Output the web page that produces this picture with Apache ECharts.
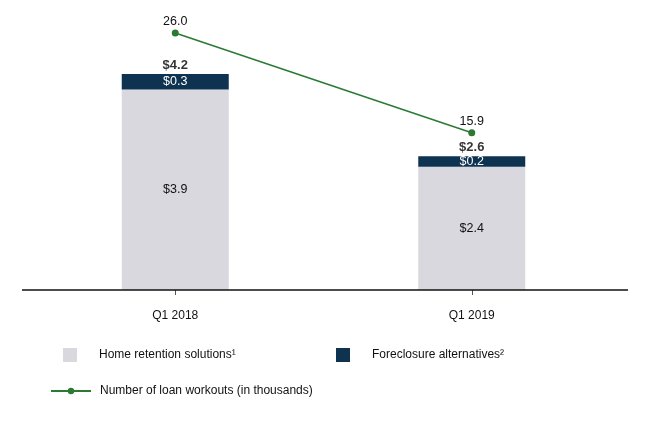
<!DOCTYPE html>
<html>
<head>
<meta charset="utf-8">
<script src="https://cdn.jsdelivr.net/npm/echarts@6/dist/echarts.min.js"></script>
<style>html,body{margin:0;padding:0;background:#fff}#c{width:646px;height:425px}</style>
</head>
<body>
<div id="c"></div>
<script>
const categories = ['Q1 2018', 'Q1 2019'];
const homeRetention = [3.9, 2.4];
const foreclosureAlt = [0.3, 0.2];
const totals = [4.2, 2.6];
const loanWorkouts = [26.0, 15.9];

const FONT = 'Liberation Sans, Arial, sans-serif';
const chart = echarts.init(document.getElementById('c'));
chart.setOption({
  animation: false,
  backgroundColor: '#fff',
  textStyle: { fontFamily: FONT },
  grid: { left: 27, right: 26, top: 33, bottom: 135 },
  graphic: [{
    type: 'line', shape: { x1: 22, y1: 290, x2: 628, y2: 290 },
    style: { stroke: '#111', lineWidth: 1.5 }, z: 10
  }],
  legend: [
    { left: 58, top: 343, itemWidth: 14, itemHeight: 14, data: [{ name: 'Home retention solutions¹', icon: 'rect' }],
      textStyle: { fontFamily: FONT, fontSize: 12, color: '#111', padding: [0, 0, 0, 17] } },
    { left: 331, top: 343, itemWidth: 14, itemHeight: 14, data: [{ name: 'Foreclosure alternatives²', icon: 'rect' }],
      textStyle: { fontFamily: FONT, fontSize: 12, color: '#111', padding: [0, 0, 0, 17] } },
    { left: 45, top: 380, itemWidth: 40, itemHeight: 8, data: ['Number of loan workouts (in thousands)'],
      textStyle: { fontFamily: FONT, fontSize: 12, color: '#111', padding: [0, 0, 0, 4] } }
  ],
  xAxis: {
    type: 'category', data: categories,
    axisLine: { show: false },
    axisTick: { show: true, alignWithLabel: true, length: 5, lineStyle: { color: '#555' } },
    axisLabel: { fontFamily: FONT, fontSize: 12, color: '#111', margin: 20 }
  },
  yAxis: [
    { type: 'value', min: 0, max: 5, show: false, splitLine: { show: false } },
    { type: 'value', min: 0, max: 26, show: false, splitLine: { show: false } }
  ],
  series: [
    { name: 'Home retention solutions¹', type: 'bar', stack: 'a', data: homeRetention, barWidth: 107,
      itemStyle: { color: '#d9d8de' },
      label: { show: true, position: 'inside', formatter: p => '$' + p.value.toFixed(1), fontFamily: FONT, fontSize: 12.5, color: '#111' } },
    { name: 'Foreclosure alternatives²', type: 'bar', stack: 'a', data: foreclosureAlt, barWidth: 107,
      itemStyle: { color: '#0d3350' },
      label: { show: true, position: 'inside', formatter: p => '$' + p.value.toFixed(1), fontFamily: FONT, fontSize: 12.5, color: '#fff' } },
    { name: 'total', type: 'scatter', data: totals, symbolSize: 0, silent: true,
      label: { show: true, position: 'top', distance: 2, formatter: p => '$' + p.value.toFixed(1), fontFamily: FONT, fontSize: 13, fontWeight: 'bold', color: '#000' } },
    { name: 'Number of loan workouts (in thousands)', type: 'line', yAxisIndex: 1, data: loanWorkouts,
      symbol: 'circle', symbolSize: 7, itemStyle: { color: '#2a7a33' }, lineStyle: { color: '#2a7a33', width: 1.5 },
      label: { show: true, position: 'top', distance: 1, formatter: p => p.value.toFixed(1), fontFamily: FONT, fontSize: 12.5, color: '#111' } }
  ]
});
</script>
</body>
</html>
